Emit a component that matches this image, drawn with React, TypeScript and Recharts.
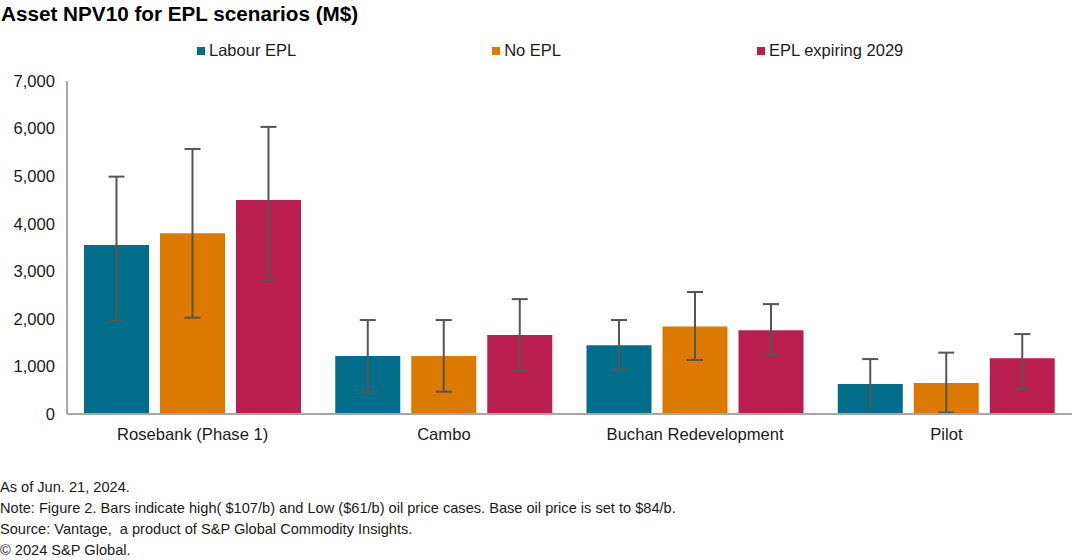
import { BarChart, Bar, XAxis, YAxis, ErrorBar } from "recharts";

const categories = ["Rosebank (Phase 1)", "Cambo", "Buchan Redevelopment", "Pilot"];

const labourEpl = [3550, 1220, 1445, 630];
const labourLow = [1960, 460, 940, 0];
const labourHigh = [4990, 1975, 1975, 1155];

const noEpl = [3800, 1220, 1840, 650];
const noEplLow = [2025, 470, 1135, 30];
const noEplHigh = [5570, 1975, 2565, 1290];

const epl2029 = [4500, 1660, 1760, 1170];
const epl2029Low = [2815, 910, 1235, 530];
const epl2029High = [6035, 2415, 2310, 1680];

const yTicks = [0, 1000, 2000, 3000, 4000, 5000, 6000, 7000];

const footnotes = [
  "As of Jun. 21, 2024.",
  "Note: Figure 2. Bars indicate high( $107/b) and Low ($61/b) oil price cases. Base oil price is set to $84/b.",
  "Source: Vantage,  a product of S&P Global Commodity Insights.",
  "© 2024 S&P Global.",
];

const series = [
  { key: "labour", name: "Labour EPL", color: "#006E8A" },
  { key: "noEpl", name: "No EPL", color: "#DC7A00" },
  { key: "epl2029", name: "EPL expiring 2029", color: "#BA1E51" },
];

const data = categories.map((name, i) => ({
  name,
  labour: labourEpl[i],
  labourErr: [labourEpl[i] - labourLow[i], labourHigh[i] - labourEpl[i]],
  noEpl: noEpl[i],
  noEplErr: [noEpl[i] - noEplLow[i], noEplHigh[i] - noEpl[i]],
  epl2029: epl2029[i],
  epl2029Err: [epl2029[i] - epl2029Low[i], epl2029High[i] - epl2029[i]],
}));

const font = '"Liberation Sans", Arial, sans-serif';

export default function App() {
  return (
    <div
      style={{
        position: "absolute",
        top: 0,
        left: 0,
        width: 1092,
        height: 560,
        background: "#fff",
        fontFamily: font,
        color: "#000",
      }}
    >
      <div
        style={{
          position: "absolute",
          left: 1,
          top: 2,
          fontSize: 20.7,
          fontWeight: "bold",
          whiteSpace: "nowrap",
        }}
      >
        Asset NPV10 for EPL scenarios (M$)
      </div>

      <div
        style={{
          position: "absolute",
          left: 197,
          top: 41,
          display: "flex",
          gap: 196,
          fontSize: 16.5,
          color: "#1a1a1a",
          whiteSpace: "nowrap",
        }}
      >
        {series.map((s) => (
          <div key={s.key} style={{ display: "flex", alignItems: "center" }}>
            <span
              style={{
                width: 8,
                height: 8,
                background: s.color,
                display: "inline-block",
                marginRight: 4,
              }}
            />
            {s.name}
          </div>
        ))}
      </div>

      <div style={{ position: "absolute", left: 0, top: 0 }}>
        <BarChart
          width={1092}
          height={450}
          data={data}
          margin={{ top: 81, right: 20, left: 0, bottom: 6 }}
          barCategoryGap={17}
          barGap={11}
        >
          <XAxis
            dataKey="name"
            height={30}
            tickLine={false}
            axisLine={{ stroke: "#A6A6A6", strokeWidth: 2 }}
            tick={{ fill: "#1a1a1a", fontSize: 16.6, fontFamily: font }}
            tickSize={6}
            tickMargin={8}
            interval={0}
          />
          <YAxis
            width={67}
            domain={[0, 7000]}
            ticks={yTicks}
            tickLine={false}
            axisLine={{ stroke: "#A6A6A6", strokeWidth: 2 }}
            tick={{ fill: "#1a1a1a", fontSize: 16.6, fontFamily: font }}
            tickSize={6}
            tickMargin={6}
            tickFormatter={(v: number) => v.toLocaleString("en-US")}
          />
          {series.map((s) => (
            <Bar key={s.key} dataKey={s.key} name={s.name} fill={s.color} isAnimationActive={false}>
              <ErrorBar
                dataKey={s.key + "Err"}
                width={8}
                stroke="#555555"
                strokeWidth={2}
                isAnimationActive={false}
              />
            </Bar>
          ))}
        </BarChart>
      </div>

      <div
        style={{
          position: "absolute",
          left: 0,
          top: 477,
          fontFamily: '"Liberation Sans Narrow", "Arial Narrow", "Liberation Sans", Arial, sans-serif',
          fontSize: 14.6,
          lineHeight: "21px",
          color: "#1a1a1a",
          whiteSpace: "pre",
        }}
      >
        {footnotes.map((t) => (
          <div key={t}>{t}</div>
        ))}
      </div>
    </div>
  );
}
